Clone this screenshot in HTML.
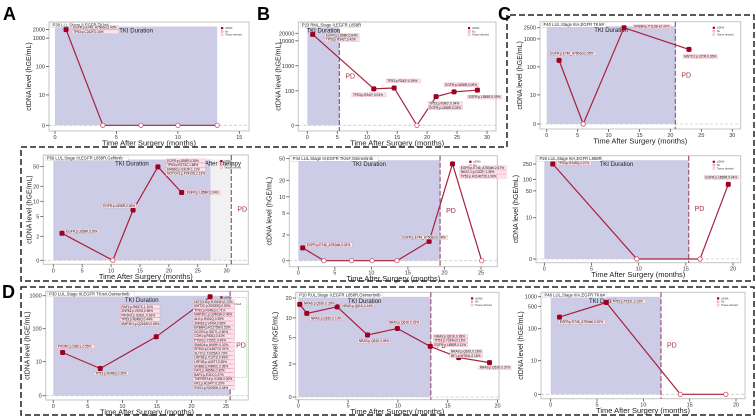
<!DOCTYPE html>
<html><head><meta charset="utf-8"><style>
html,body{margin:0;padding:0;background:#fff;}
svg{display:block;font-family:"Liberation Sans",sans-serif;}
</style></head><body>
<svg id="fig" width="756" height="417" viewBox="0 0 756 417" xmlns="http://www.w3.org/2000/svg">
<rect width="756" height="417" fill="#fff"/>
<polygon points="21,147 507,147 507,15 754,15 754,281 21,281" fill="none" stroke="#222" stroke-width="1.5" stroke-dasharray="6,3"/>
<rect x="21" y="287" width="733" height="128" fill="none" stroke="#222" stroke-width="1.5" stroke-dasharray="6,3"/>
<text x="3" y="20" font-size="18" font-weight="bold">A</text>
<text x="257" y="20" font-size="18" font-weight="bold">B</text>
<text x="498" y="20" font-size="18" font-weight="bold">C</text>
<text x="2" y="298" font-size="18" font-weight="bold">D</text>
</svg>
<script>
// ---- data ----
const aMonths=[0.9,3.9,7,10,13.2];
const aLevels=[2000,0,0,0,0];
const bMonths=[0.9,11.1,14.5,18.3,21.5,24.5,28.4];
const bLevels=[18000,120,130,0,83,97,106];
const cMonths=[2,5.9,12.5,23];
const cLevels=[170,0,2500,420];
const eMonths=[1.5,10.3,13.8,18.1,22.2];
const eLevels=[2.3,0,6.7,49,15];
const fMonths=[0.6,3.5,7.3,10.1,13.5,17.9,21.1,25.1];
const fLevels=[1.0,0,0,0,0,1.5,40,0];
const gMonths=[0.9,9.8,16.5,19.5];
const gLevels=[250,0,0,74];
const dMonths=[1.35,6.8,14.9,22.7];
const dLevels=[19,8,57,930];
const hMonths=[0.15,0.85,3.9,6.95,9.95,13.25,16.1,19.2];
const hLevels=[16,11.7,14.7,5.5,6.9,3.7,2.5,2.1];
const iMonths=[0.95,6,14,18.9];
const iLevels=[230,660,0,0];

const aYTicks=[0,10,100,1000,2000];
const bYTicks=[0,100,1000,10000,20000];
const cYTicks=[0,10,100,1000,2500];
const eYTicks=[0,2,5,10,20,50];
const fYTicks=[0,2,5,10,20,50];
const gYTicks=[0,10,50,100,250];
const dYTicks=[0,10,100,1000];
const hYTicks=[0,2,5,10,20];
const iYTicks=[0,10,100,500,1000];

const aXTicks=[0,5,10,15];
const bXTicks=[0,5,10,15,20,25,30];
const cXTicks=[0,5,10,15,20,25,30];
const eXTicks=[0,5,10,15,20,25,30];
const fXTicks=[0,5,10,15,20,25];
const gXTicks=[0,5,10,15,20];
const dXTicks=[0,5,10,15,20,25];
const hXTicks=[0,5,10,15,20];
const iXTicks=[0,5,10,15,20];

const tkiEnd={a:13.2,b:5.35,c:20.8,e:27.2,f:19.4,g:15.3,d:25.6,h:13.3,i:11.9};
const pdMonth={a:null,b:5.35,c:20.8,e:30.8,f:19.4,g:15.3,d:25.6,h:13.3,i:11.9};

// ---- layout ----
const panels=[
 {id:'a',months:aMonths,levels:aLevels,yt:aYTicks,xt:aXTicks,fx0:49,fx1:249,fy0:22,fy1:131,x0:55,x1:239.3,xv1:15,yz:125.3,k:28.4,c:10,L:1.07,yl:18,
  title:'P38 LLL,Stage II,EGFR TKIs#',
  ann:[{i:0,dx:6,dy:-4,t:['EGFR:p.E746_A750del,2.43%','TP53:p.C242F,0.16%']}]},
 {id:'b',months:bMonths,levels:bLevels,yt:bYTicks,xt:bXTicks,fx0:298.3,fx1:496,fy0:22,fy1:131,x0:307.3,x1:487,xv1:30,yz:125.3,k:25,c:100,L:1.38,yl:18,
  title:'P23 RML,Stage II,EGFR L858R',
  ann:[{i:0,dx:12,dy:-1,t:['EGFR:p.L858R,0.64%','TP53:p.R342*,3.42%']},{i:1,dx:-22,dy:4,t:['TP53:p.R342*,0.03%']},{i:2,dx:-8,dy:-9,t:['TP53:p.R342*,0.09%']},{i:4,dx:-8,dy:5,t:['TP53:p.R342*,0.04%','EGFR:p.L858R,0.03%']},{i:5,dx:-10,dy:-9,t:['EGFR:p.L858R,0.09%']},{i:6,dx:-10,dy:5,t:['EGFR:p.L858R,0.05%']}]},
 {id:'c',months:cMonths,levels:cLevels,yt:cYTicks,xt:cXTicks,fx0:540,fx1:740.7,fy0:21.7,fy1:129,x0:546.7,x1:732.3,xv1:30,yz:124,k:28,c:10,L:1.04,yl:18,
  title:'P40 LUL,Stage IIIA,EGFR TKIs#',
  ann:[{i:0,dx:-10,dy:-9,t:['EGFR:p.E746_A750del,0.95%']},{i:2,dx:9,dy:-3,t:['ERBB4:p.P1128H,0.42%']},{i:3,dx:-6,dy:5,t:['MSTO1:p.L57R,0.35%']}]},
 {id:'e',months:eMonths,levels:eLevels,yt:eYTicks,xt:eXTicks,fx0:43.3,fx1:248.3,fy0:155,fy1:264.3,x0:53.3,x1:226.7,xv1:30,yz:260.3,k:50,c:2,L:0.48,yl:12,
  title:'P56 LUL,Stage III,EGFR L858R,Gefitinib',after:true,
  ann:[{i:0,dx:3,dy:-4,t:['EGFR:p.L858R,0.29%']},{i:2,dx:-31,dy:-6,t:['EGFR:p.L858R,0.26%']},{i:3,dx:8,dy:-8,t:['EGFR:p.L858R,0.35%','TP53:p.R273C,1.88%','ERBB2:p.S310F,1.11%','NOTCH1:p.P2415S,2.13%']},{i:4,dx:4,dy:-2,t:['EGFR:p.L858R,0.24%']}]},
 {id:'f',months:fMonths,levels:fLevels,yt:fYTicks,xt:fXTicks,fx0:289.3,fx1:497.3,fy0:155.7,fy1:266.7,x0:298.3,x1:481,xv1:25,yz:260.7,k:54.7,c:2,L:0.47,yl:18,
  title:'P44 LUL,Stage III,EGFR TKIs#,Osimertinib',
  ann:[{i:0,dx:3,dy:-5,t:['EGFR:p.E746_A750del,0.02%']},{i:5,dx:-28,dy:-6,t:['EGFR:p.E746_A750del,0.08%']},{i:6,dx:7,dy:2,t:['EGFR:p.E746_A750del,2.67%','NKX2-1:p.G200*,1.39%','TP53:p.H214fs*26,1.99%']}]},
 {id:'g',months:gMonths,levels:gLevels,yt:gYTicks,xt:gXTicks,fx0:536,fx1:740.7,fy0:155.7,fy1:262.7,x0:544.3,x1:733,xv1:20,yz:259,k:38.4,c:10,L:1.075,yl:18,
  title:'P26 LUL,Stage IIIA,EGFR L858R',
  ann:[{i:0,dx:4,dy:-3,t:['TP53:p.R248Q,0.07%']},{i:3,dx:-24,dy:-9,t:['EGFR:p.L858R,0.04%']}]},
 {id:'d',months:dMonths,levels:dLevels,yt:dYTicks,xt:dXTicks,fx0:45.7,fx1:248.3,fy0:291.3,fy1:400,x0:53.3,x1:226,xv1:25,yz:395.7,k:33,c:10,L:1.03,yl:16,
  title:'P30 LUL,Stage III,EGFR TKIs#,Osimertinib',green:true,
  ann:[{i:0,dx:-6,dy:-8,t:['PIK3R1:p.S361L,0.55%']},{i:1,dx:-6,dy:3,t:['TP53:p.R248Q,0.35%']},{i:2,dx:-36,dy:-32,t:['RAF1:p.R657C,1.10%','ZNF83:p.V67M,0.96%','PIK3R1:p.S361L,0.62%','TP53:p.R248Q,0.44%','MAP3K1:p.Q2463H,0.85%']},
   {i:3,dx:-17,dy:3,t:['NOTCH3:p.R1943H,0.70%','KMT2C:p.R2029Q,0.50%','TP53:p.R248Q,0.71%','MAP3K1:p.Q2463H,0.46%','ALK:p.R401Q,0.39%','ZNF83:p.V67M,0.55%','ERBB4:p.R1275W,0.53%','NCOR1:p.S877L,0.50%','CDH1:p.R63Q,0.41%','PTEN:p.Y155C,0.49%','SMAD4:p.W409*,0.32%','EP300:p.D1487Y,0.31%','SLIT2:p.T1025A,0.70%','LRP1B:p.V1271I,0.45%','LRP1B:p.A497T,0.35%','ERBB2:p.R896C,0.35%','FAT1:p.A656E,0.30%','BAP1:p.E31K,0.27%','TNFRSF14:p.V153I,0.30%','NF1:p.R1947*,0.20%','ROS1:p.R2039H,0.18%']}]},
 {id:'h',months:hMonths,levels:hLevels,yt:hYTicks,xt:hXTicks,fx0:295.7,fx1:499,fy0:292.3,fy1:399.7,x0:298.3,x1:497.5,xv1:20,yz:397,k:66,c:2,L:0.5,yl:18,
  title:'P10 RUL,Stage II,EGFR L858R,Osimertinib',
  ann:[{i:0,dx:3,dy:-3,t:['NRAS:p.Q61K,0.39%']},{i:1,dx:3,dy:3,t:['NRAS:p.Q61K,0.13%']},{i:2,dx:4,dy:-3,t:['NRAS:p.Q61K,0.14%']},{i:3,dx:-10,dy:4,t:['NRAS:p.Q61K,0.05%']},{i:4,dx:-10,dy:-8,t:['NRAS:p.Q61K,0.15%']},{i:5,dx:3,dy:-12,t:['NRAS:p.Q61K,0.28%','TP53:p.Y234H,0.16%','EGFR:p.L858R,0.11%']},{i:6,dx:-9,dy:-8,t:['NRAS:p.Q61K,0.18%','NF1:p.W784L,0.16%']},{i:7,dx:-11,dy:3,t:['NRAS:p.Q61K,0.37%']}]},
 {id:'i',months:iMonths,levels:iLevels,yt:iYTicks,xt:iXTicks,fx0:541,fx1:745,fy0:292.3,fy1:398.7,x0:550.7,x1:736,xv1:20,yz:394.3,k:32,c:10,L:1.05,yl:18,
  title:'P48 LUL,Stage IIIA,EGFR TKIs#',
  ann:[{i:0,dx:-1,dy:3,t:['EGFR:p.E746_A750del,0.10%']},{i:1,dx:5,dy:-3,t:['TP53:p.P152L,0.13%']}]}
];

const NS='http://www.w3.org/2000/svg';
const svg=document.getElementById('fig');
function el(tag,attrs,parent,text){const e=document.createElementNS(NS,tag);for(const k in attrs)e.setAttribute(k,attrs[k]);if(text!==undefined)e.textContent=text;(parent||svg).appendChild(e);return e;}

panels.forEach(p=>{
  const g=el('g',{});
  
  
  const X=v=>p.x0+(v/p.xv1)*(p.x1-p.x0);
  const Y=v=>{const u=v<=p.c?p.L*v/p.c:p.L+Math.log10(v/p.c);return p.yz-p.k*u;};
  const fr=el('rect',{x:p.fx0,y:p.fy0,width:p.fx1-p.fx0,height:p.fy1-p.fy0,fill:'#fff',stroke:'#c4c4c4','stroke-width':1},g);
  
  
  const sTop=p.fy0+4.5, sEnd=X(tkiEnd[p.id]);
  const sh=el('rect',{x:X(0),y:sTop,width:sEnd-X(0),height:p.yz-sTop,fill:'#cccce6'},g);
  
  
  const tk=el('text',{x:(X(0)+sEnd)/2,y:sTop+6,'font-size':6,'text-anchor':'middle',fill:'#222'},g,'TKI Duration');
  
  
  if(p.after){
    const ae=X(pdMonth[p.id]);
    const ar=el('rect',{x:sEnd,y:sTop,width:ae-sEnd,height:p.yz-sTop,fill:'#f1f1f3'},g);
    
    
    const at=el('text',{x:(sEnd+ae)/2+2,y:sTop+6,'font-size':6,'text-anchor':'middle',fill:'#222'},g,'After Therapy');
    
    
  }
  const zl=el('line',{x1:p.fx0,x2:p.fx1,y1:p.yz,y2:p.yz,stroke:'#ccc','stroke-width':0.8,'stroke-dasharray':'3,2'},g);
  
  
  if(pdMonth[p.id]!==null){
    const px=X(pdMonth[p.id]);
    const pl=el('line',{x1:px,x2:px,y1:p.fy0,y2:p.fy1,stroke:'#a06080','stroke-width':1.3,'stroke-dasharray':'5,2'},g);
    
    
    const pt=el('text',{x:px+6,y:(p.fy0+p.fy1)/2+2,'font-size':7,fill:'#a0303c'},g,'PD');
    
    
  }
  if(p.green){
    const gb=el('rect',{x:X(22.5)+14,y:p.fy0+6,width:p.fx1-X(22.5)-16,height:80,fill:'none',stroke:'#7c7','stroke-width':0.6,'stroke-dasharray':'1,1'},g);
    
    
  }
  p.yt.forEach(v=>{
    const y=Y(v);
    const t=el('line',{x1:p.fx0-3,x2:p.fx0,y1:y,y2:y,stroke:'#555','stroke-width':0.8},g);
    
    
    const l=el('text',{x:p.fx0-4,y:y+2,'font-size':5.5,'text-anchor':'end',fill:'#333'},g,String(v));
    
    
  });
  p.xt.forEach(v=>{
    const x=X(v);
    const t=el('line',{x1:x,x2:x,y1:p.fy1,y2:p.fy1+3,stroke:'#555','stroke-width':0.8},g);
    
    
    const l=el('text',{x:x,y:p.fy1+8,'font-size':5.5,'text-anchor':'middle',fill:'#333'},g,String(v));
    
    
  });
  const xt=el('text',{x:(p.fx0+p.fx1)/2,y:p.fy1+14.5,'font-size':7.5,'text-anchor':'middle',fill:'#222'},g,'Time After Surgery (months)');
  
  
  const yx=p.fx0-p.yl, yy=(p.fy0+p.fy1)/2;
  const yt=el('text',{x:yx,y:yy,'font-size':7,'text-anchor':'middle',fill:'#222',transform:'rotate(-90 '+yx+' '+yy+')'},g,'ctDNA level (hGE/mL)');
  
  
  const tb=el('rect',{x:p.fx0+2,y:p.fy0+0.5,width:p.title.length*2.1+3,height:5,fill:'#fff',stroke:'#bbb','stroke-width':0.3},g);
  
  
  const tt=el('text',{x:p.fx0+3.5,y:p.fy0+4.3,'font-size':4.2,fill:'#222'},g,p.title);
  
  
  const lx=p.fx1-28, ly=p.fy0+5;
  const lm=el('rect',{x:lx,y:ly,width:2.2,height:2.2,fill:'#a00020'},g);
  
  
  const lt1=el('text',{x:lx+4,y:ly+2,'font-size':2.6,fill:'#333'},g,'ctDNA');
  
  
  const lc=el('circle',{cx:lx+1.1,cy:ly+4.5,r:1,fill:'none',stroke:'#d05060','stroke-width':0.5},g);
  
  
  const lt2=el('text',{x:lx+4,y:ly+5.3,'font-size':2.6,fill:'#333'},g,'No');
  
  
  const lb=el('rect',{x:lx,y:ly+6.8,width:2.2,height:2,fill:'#fde',stroke:'#e8a','stroke-width':0.3},g);
  
  
  const lt3=el('text',{x:lx+4,y:ly+8.6,'font-size':2.6,fill:'#333'},g,'Tissue derived');
  
  
  const pts=p.months.map((m,i)=>[X(m),Y(p.levels[i])]);
  const pl=el('polyline',{points:pts.map(q=>q[0].toFixed(1)+','+q[1].toFixed(1)).join(' '),fill:'none',stroke:'#a8203c','stroke-width':1.2},g);
  
  
  pts.forEach((q,i)=>{
    let m;
    if(p.levels[i]>0){
      m=el('rect',{x:q[0]-2.5,y:q[1]-2.5,width:5,height:5,rx:1.2,fill:'#a00020'},g);
    } else {
      m=el('circle',{cx:q[0],cy:q[1],r:2.2,fill:'#fff',stroke:'#d05060','stroke-width':0.8},g);
    }
    
    
  });
  p.ann.forEach(a=>{
    const q=pts[a.i];
    const w=Math.max(...a.t.map(s=>s.length))*1.75+3;
    const lh=4.3;
    const bx=q[0]+a.dx, by=q[1]+a.dy;
    a.t.forEach((s,j)=>{
      const r=el('rect',{x:bx,y:by+j*lh,width:w,height:lh-0.4,fill:'#fbe3ea',stroke:'#e07090','stroke-width':0.35,'stroke-dasharray':'0.8,0.6'},g);
      
      
      const t=el('text',{x:bx+1.2,y:by+j*lh+3,'font-size':3.2,fill:'#111'},g,s);
      
      
    });
  });
});
</script>
</body></html>
